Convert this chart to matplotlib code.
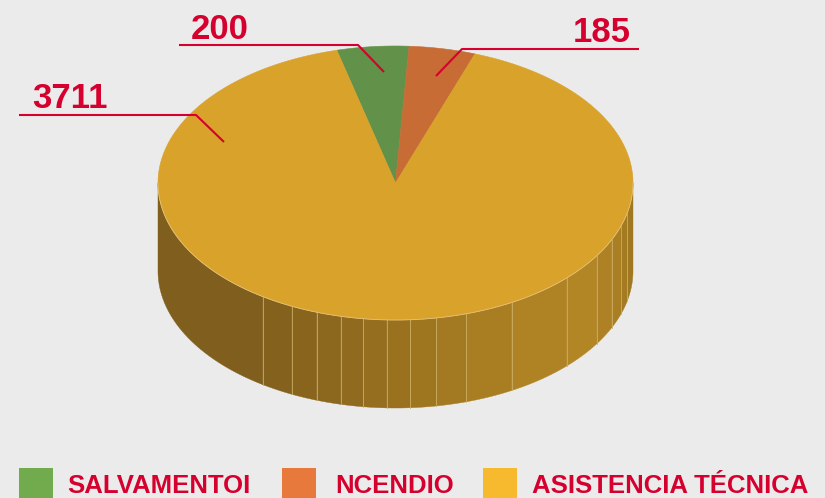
import numpy as np
import matplotlib
matplotlib.use("Agg")
import matplotlib.pyplot as plt
from matplotlib.patches import Polygon, Rectangle

# ---- data ----
categories = ['SALVAMENTOI', 'NCENDIO', 'ASISTENCIA TÉCNICA']
values = [200, 185, 3711]
value_labels = ['200', '185', '3711']
top_colors = ['#62914A', '#C76C34', '#D9A22B']
legend_colors = ['#72AB4E', '#E8793D', '#F7B92D']

# ---- styling / geometry ----
BG = '#EBEBEB'
RED = '#D6002F'
CX, CY, RX, RY, DEPTH = 395.5, 183.0, 237.5, 137.0, 88.0
START = 104.3  # degrees, slices go clockwise

facet_angles = [180, 236.0, 244.1, 250.6, 256.7, 262.2, 267.9, 273.6, 279.9,
                287.3, 299.3, 316.1, 327.9, 335.5, 341.7, 347.4, 360]
facet_colors = ['#7F5E1E', '#84611D', '#88641D', '#8C671E', '#906A1E', '#956E1F',
                '#9A721F', '#9F7620', '#A37921', '#A97E22', '#AF8324', '#B28525',
                '#AE8224', '#AA7F23', '#A57B22', '#A07820']

fig = plt.figure(figsize=(8.25, 4.98), dpi=100, facecolor=BG)
ax = fig.add_axes([0, 0, 1, 1])
ax.set_xlim(0, 825)
ax.set_ylim(498, 0)
ax.axis('off')
ax.set_facecolor(BG)


def ell(t_deg, dy=0.0):
    t = np.radians(t_deg)
    return np.column_stack([CX + RX * np.cos(t), CY - RY * np.sin(t) + dy])


# side wall (front half)
for i in range(len(facet_angles) - 1):
    a, b = facet_angles[i], facet_angles[i + 1]
    ts = np.linspace(a, b, 60)
    top = ell(ts)
    bot = ell(ts[::-1], DEPTH)
    ax.add_patch(Polygon(np.vstack([top, bot]), closed=True,
                         facecolor=facet_colors[i], edgecolor=facet_colors[i],
                         lw=0.3, zorder=1))
for a in facet_angles[1:-1]:
    p = ell([a])[0]
    ax.plot([p[0], p[0]], [p[1], p[1] + DEPTH], color='#CDB16A', lw=0.7,
            alpha=0.8, zorder=2)

# top wedges
total = float(sum(values))
ang = START
for v, c in zip(values, top_colors):
    span = v / total * 360.0
    ts = np.linspace(ang, ang - span, max(int(span * 3), 10))
    pts = np.vstack([[CX, CY], ell(ts)])
    ax.add_patch(Polygon(pts, closed=True, facecolor=c, edgecolor=c,
                         lw=0.4, zorder=3))
    ang -= span

# light rim on the front edge of the top
rim = ell(np.linspace(180, 360, 200))
ax.plot(rim[:, 0], rim[:, 1], color='#E4C27C', lw=0.6, zorder=4)

# value labels with leader lines
label_pos = [(191, 39), (573, 42), (32, 108)]
leaders = [
    [(179, 45), (358, 45), (384, 72)],
    [(639, 49), (462, 49), (436, 76)],
    [(19, 115), (196, 115), (224, 142)],
]
for txt, (tx, ty), ln in zip(value_labels, label_pos, leaders):
    ax.text(tx, ty, txt, color=RED, fontsize=25, fontweight='bold',
            family=['Liberation Sans', 'DejaVu Sans'], ha='left', va='baseline',
            zorder=6)
    xs, ys = zip(*ln)
    ax.plot(xs, ys, color=RED, lw=1.5, zorder=6, solid_capstyle='butt')

# legend
box_x = [19, 282, 483]
text_x = [67, 335, 532]
for name, c, bx, tx in zip(categories, legend_colors, box_x, text_x):
    ax.add_patch(Rectangle((bx, 468), 34, 32, facecolor=c, edgecolor='none',
                           zorder=5, clip_on=False))
    ax.text(tx, 497.5, name, color=RED, fontsize=18.5, fontweight='bold',
            family=['Liberation Sans', 'DejaVu Sans'], ha='left', va='bottom',
            zorder=6)

fig.savefig('out.png', dpi=100, facecolor=BG)
